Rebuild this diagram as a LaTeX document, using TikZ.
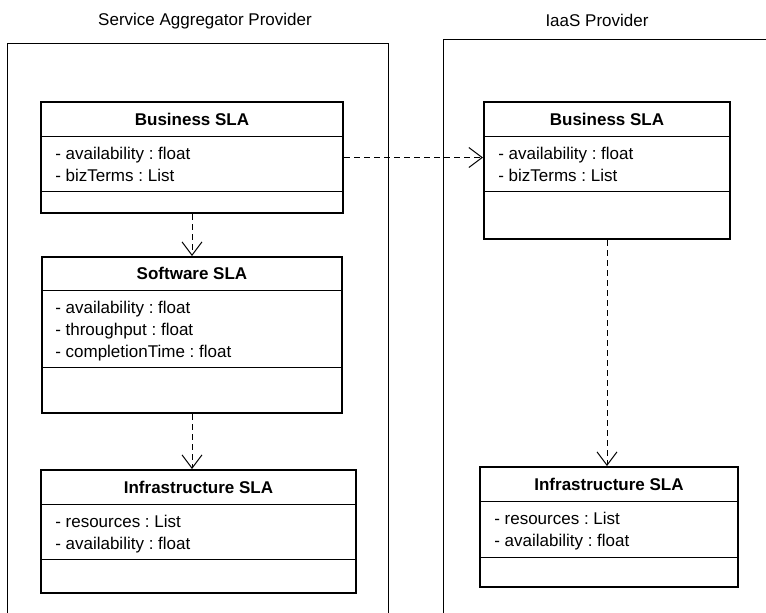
\documentclass[tikz,border=0pt]{standalone}
\usepackage{fontspec}
\setmainfont{Liberation Sans}
\frenchspacing
\usetikzlibrary{arrows.meta,positioning}

\tikzset{
  frame/.style={draw, line width=0.75pt},
  classbox/.style={draw, rectangle, line width=1.5pt, inner sep=0pt},
  sepline/.style={line width=0.75pt},
  classtitle/.style={font=\fontsize{12.75}{15}\selectfont\bfseries, inner sep=0pt},
  attrs/.style={font=\fontsize{12.75}{16.5}\selectfont, align=left, anchor=north west, inner sep=0pt},
  frametitle/.style={font=\fontsize{12.75}{15}\selectfont, inner sep=0pt},
  dep/.style={line width=0.75pt, dash pattern=on 4.5pt off 3pt,
    -{Straight Barb[length=10pt,width=15pt,line width=0.75pt]}},
}

\begin{document}
\begin{tikzpicture}[x=0.75pt,y=0.75pt,yscale=-1]
\useasboundingbox (0,0) rectangle (766,612);

%Providers
\draw [frame] (7,630) -- (7,43) -- (388,43) -- (388,630);
\draw [frame] (443,630) -- (443,39) -- (780,39);
\node [frametitle] (aggTitle) at (205,21) {Service Aggregator Provider};
\node [frametitle] (iaasTitle) at (597,20) {IaaS Provider};

%Business SLA (aggregator)
\node [classbox, minimum width=226.5pt, minimum height=83.25pt] (bizL) at (192,157.5) {};
\draw [sepline] (bizL.west |- 0,136) -- (bizL.east |- 0,136);
\draw [sepline] (bizL.west |- 0,191) -- (bizL.east |- 0,191);
\node [classtitle] (bizLt) at (bizL.north |- 0,119) {Business SLA};
\node [attrs] (bizLa) at (55,147) {- availability : float\\- bizTerms : List};

%Software SLA
\node [classbox, minimum width=225pt, minimum height=117pt] (swL) at (192,335) {};
\draw [sepline] (swL.west |- 0,290) -- (swL.east |- 0,290);
\draw [sepline] (swL.west |- 0,367) -- (swL.east |- 0,367);
\node [classtitle] (swLt) at (swL.north |- 0,273.5) {Software SLA};
\node [attrs] (swLa) at (55,301) {- availability : float\\- throughput : float\\- completionTime : float};

%Infrastructure SLA (aggregator)
\node [classbox, minimum width=236.25pt, minimum height=92.25pt] (infL) at (198.5,531.5) {};
\draw [sepline] (infL.west |- 0,504) -- (infL.east |- 0,504);
\draw [sepline] (infL.west |- 0,559) -- (infL.east |- 0,559);
\node [classtitle] (infLt) at (infL.north |- 0,487) {Infrastructure SLA};
\node [attrs] (infLa) at (55,515) {- resources : List\\- availability : float};

%Business SLA (IaaS)
\node [classbox, minimum width=184.5pt, minimum height=102.75pt] (bizR) at (607,170.5) {};
\draw [sepline] (bizR.west |- 0,136) -- (bizR.east |- 0,136);
\draw [sepline] (bizR.west |- 0,191) -- (bizR.east |- 0,191);
\node [classtitle] (bizRt) at (bizR.north |- 0,119) {Business SLA};
\node [attrs] (bizRa) at (498,147) {- availability : float\\- bizTerms : List};

%Infrastructure SLA (IaaS)
\node [classbox, minimum width=193.5pt, minimum height=90pt] (infR) at (609,527) {};
\draw [sepline] (infR.west |- 0,501) -- (infR.east |- 0,501);
\draw [sepline] (infR.west |- 0,557) -- (infR.east |- 0,557);
\node [classtitle] (infRt) at (infR.north |- 0,484) {Infrastructure SLA};
\node [attrs] (infRa) at (494,512) {- resources : List\\- availability : float};

%Dependencies
\draw [dep] (bizL.east) -- (bizL.east -| bizR.west);
\draw [dep] (bizL.south) -- (swL.north);
\draw [dep] (swL.south) -- (swL.south |- infL.north);
\draw [dep] (bizR.south) -- (bizR.south |- infR.north);

\end{tikzpicture}
\end{document}
